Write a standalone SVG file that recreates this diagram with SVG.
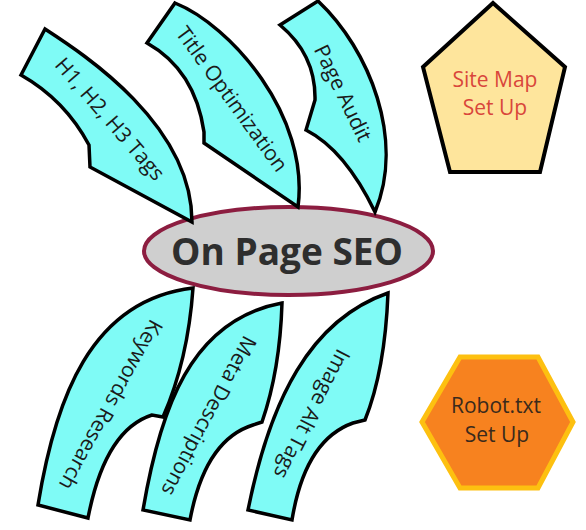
<svg xmlns="http://www.w3.org/2000/svg" width="586" height="530" viewBox="0 0 586 530">
<style>
.arrow{fill:#7ffbf6;stroke:#000;stroke-width:3.5;stroke-linejoin:miter}
.lbl{font-family:"Open Sans","Noto Sans","DejaVu Sans",sans-serif;font-size:21px;fill:#1a1a1a;text-anchor:middle}
.side{font-family:"Open Sans","Noto Sans","DejaVu Sans",sans-serif;font-size:21px;text-anchor:middle}
</style>
<rect width="586" height="530" fill="#fff"/>
<g id="center">
<ellipse cx="288.5" cy="251" rx="144.5" ry="44" fill="#cfcfcf" stroke="#8c1d40" stroke-width="4"/>
<text x="287" y="265" font-family="'Open Sans','Noto Sans',sans-serif" font-weight="bold" font-size="37" fill="#2e2e2e" text-anchor="middle">On Page SEO</text>
</g>
<g id="h-tags">
<path class="arrow" d="M45,29 C85,55 192,125 192,222 L90,167 L89,145 Q65,100 21,75 Z"/>
<text class="lbl" transform="translate(110,119) rotate(49)" dy="0.35em">H1, H2, H3 Tags</text>
</g>
<g id="title-optimization">
<path class="arrow" d="M175,3 C230,25 310,115 298,207 L204,143 L204,132 Q195,70 147,43 Z"/>
<text class="lbl" transform="translate(232,99) rotate(54)" dy="0.35em">Title Optimization</text>
</g>
<g id="page-audit">
<path class="arrow" d="M318,1 C370,50 405,140 375,212 Q345,150 306,130 L315,100 Q316,55 280,25 Z"/>
<text class="lbl" transform="translate(343,93) rotate(64)" dy="0.35em">Page Audit</text>
</g>
<g id="keywords-research">
<path class="arrow" d="M38,505 C55,400 90,300 193,288 Q188,360 163,417 L152,415 Q105,430 88,518 Z"/>
<text class="lbl" transform="translate(111,405) rotate(119)" dy="0.35em">Keywords Research</text>
</g>
<g id="meta-descriptions">
<path class="arrow" d="M143,510 C160,410 190,320 282,303 Q280,370 262,422 L253,425 Q205,440 190,520 Z"/>
<text class="lbl" transform="translate(209,416) rotate(118)" dy="0.35em">Meta Descriptions</text>
</g>
<g id="image-alt-tags">
<path class="arrow" d="M248,510 C270,400 310,320 388,293 Q385,370 365,420 L353,423 Q305,440 292,520 Z"/>
<text class="lbl" transform="translate(312,414) rotate(117)" dy="0.35em">Image Alt Tags</text>
</g>
<g id="site-map">
<polygon points="493,3 565,67 540,172 450,172 423,67" fill="#fee59c" stroke="#000" stroke-width="4" stroke-linejoin="miter"/>
<text class="side" x="495" y="87" fill="#d9463b">Site Map</text>
<text class="side" x="495" y="115" fill="#d9463b">Set Up</text>
</g>
<g id="robot-txt">
<polygon points="422,422 460,357 538,357 573,422 538,488 460,488" fill="#f7821f" stroke="#fdc010" stroke-width="5"/>
<text class="side" x="496" y="413" fill="#3a2a1c">Robot.txt</text>
<text class="side" x="497" y="442" fill="#3a2a1c">Set Up</text>
</g>
</svg>
